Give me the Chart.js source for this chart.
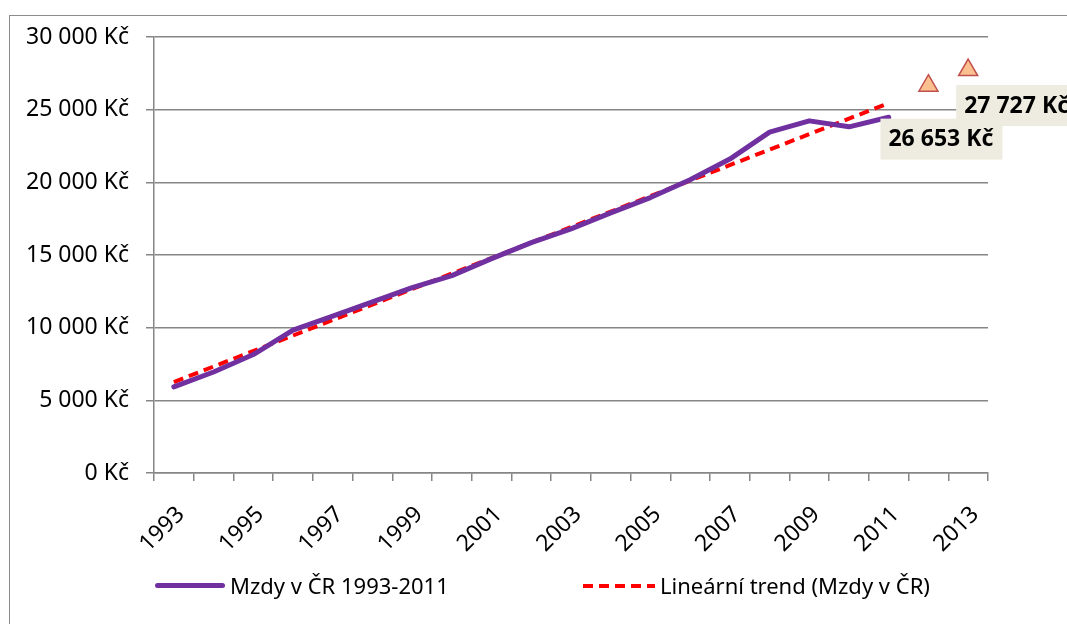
<!DOCTYPE html>
<html>
<head>
<meta charset="utf-8">
<script src="https://cdn.jsdelivr.net/npm/chart.js@4.4.1/dist/chart.umd.min.js"></script>
<style>
  body { margin: 0; background: #fff; font-family: 'Noto Sans', sans-serif; }
  #wrap { position: relative; width: 1067px; height: 624px; overflow: hidden; }
  #frame { position: absolute; left: 9px; top: 15px; width: 1200px; height: 800px;
           border-left: 1.5px solid #8c8c8c; border-top: 1.5px solid #8c8c8c; }
  canvas { position: absolute; left: 0; top: 0; }
  .leg { position: absolute; font-size: 22px; color: #000; line-height: 1; white-space: nowrap; }
  .swatch { position: absolute; }
</style>
</head>
<body>
<div id="wrap">
  <div id="frame"></div>
  <canvas id="wageChart" width="1067" height="624"></canvas>
  <div class="swatch" style="left:155px;top:583px;width:70px;height:5px;background:#7030A0;border-radius:3px;"></div>
  <div class="leg" style="left:230px;top:574px;">Mzdy v ČR 1993-2011</div>
  <div class="swatch" style="left:583px;top:584px;width:72px;height:4px;background:repeating-linear-gradient(to right,#ff0000 0 10px,transparent 10px 16px);"></div>
  <div class="leg" style="left:660px;top:574px;">Lineární trend (Mzdy v ČR)</div>
</div>
<script>
// Data
const years = ['1993','1994','1995','1996','1997','1998','1999','2000','2001','2002','2003',
               '2004','2005','2006','2007','2008','2009','2010','2011','2012','2013'];
const wages = [5920, 6950, 8150, 9830, 10800, 11780, 12750, 13580, 14750, 15850, 16800,
               17900, 18950, 20180, 21600, 23450, 24230, 23820, 24480];
const trendYears = ['1993', '2011'];
const trendValues = [6260, 25450];
const forecast = [null, null, null, null, null, null, null, null, null, null, null,
                  null, null, null, null, null, null, null, null, 26653, 27727];
const yTicks = [0, 5000, 10000, 15000, 20000, 25000, 30000];

function formatKc(v) {
  return String(v).replace(/\B(?=(\d{3})+(?!\d))/g, ' ') + ' Kč';
}

// Boxed labels next to the forecast triangles
const forecastLabels = {
  id: 'forecastLabels',
  afterDatasetsDraw(chart) {
    const meta = chart.getDatasetMeta(2);
    const ctx = chart.ctx;
    const offsets = { 19: [-48, 33], 20: [-12, 15] };
    ctx.save();
    ctx.font = 'bold 23px "Noto Sans"';
    ctx.textBaseline = 'middle';
    Object.keys(offsets).forEach(i => {
      const pt = meta.data[i];
      if (!pt) return;
      const bx = pt.x + offsets[i][0];
      const by = pt.y + offsets[i][1];
      ctx.fillStyle = '#EEECE1';
      ctx.fillRect(bx, by, 122, 41);
      ctx.fillStyle = '#000';
      ctx.fillText(formatKc(forecast[i]), bx + 8, by + 21);
    });
    ctx.restore();
  }
};

const gridColor = '#868686';

new Chart(document.getElementById('wageChart'), {
  type: 'line',
  data: {
    labels: years,
    datasets: [{
      label: 'Mzdy v ČR 1993-2011',
      data: wages,
      borderColor: '#7030A0',
      borderWidth: 5,
      pointRadius: 0,
      borderCapStyle: 'round',
      borderJoinStyle: 'round',
      tension: 0
    }, {
      label: 'Lineární trend (Mzdy v ČR)',
      data: trendYears.map((y, i) => ({ x: y, y: trendValues[i] })),
      borderColor: '#FF0000',
      borderWidth: 4,
      borderDash: [10, 6],
      pointRadius: 0
    }, {
      label: 'Prognóza',
      data: forecast,
      showLine: false,
      pointStyle: 'triangle',
      pointRadius: 11,
      pointBackgroundColor: '#FAC090',
      pointBorderColor: '#C0504D',
      pointBorderWidth: 1.5
    }]
  },
  options: {
    responsive: false,
    animation: false,
    layout: { padding: { left: 20, right: 79, top: 37, bottom: 51 } },
    plugins: { legend: { display: false }, tooltip: { enabled: false } },
    scales: {
      x: {
        type: 'category',
        offset: true,
        grid: { offset: true, drawOnChartArea: false, drawTicks: true, tickLength: 8,
                color: gridColor, lineWidth: 1.5 },
        border: { color: gridColor, width: 1.5 },
        ticks: {
          autoSkip: false,
          maxRotation: 45,
          minRotation: 45,
          padding: 20,
          labelOffset: 7,
          color: '#000',
          font: { family: 'Noto Sans', size: 23 },
          callback: function(v, i) { return i % 2 === 0 ? this.getLabelForValue(v) : ''; }
        },
        afterFit: s => { s.height = 100; }
      },
      y: {
        min: 0,
        max: 30000,
        afterBuildTicks: s => { s.ticks = yTicks.map(v => ({ value: v })); },
        grid: { color: gridColor, lineWidth: 1.5, tickLength: 8 },
        border: { color: gridColor, width: 1.5 },
        ticks: {
          padding: 17,
          color: '#000',
          font: { family: 'Noto Sans', size: 23 },
          callback: v => formatKc(v)
        },
        afterFit: s => { s.width = 134; }
      }
    }
  },
  plugins: [forecastLabels]
});
</script>
</body>
</html>
